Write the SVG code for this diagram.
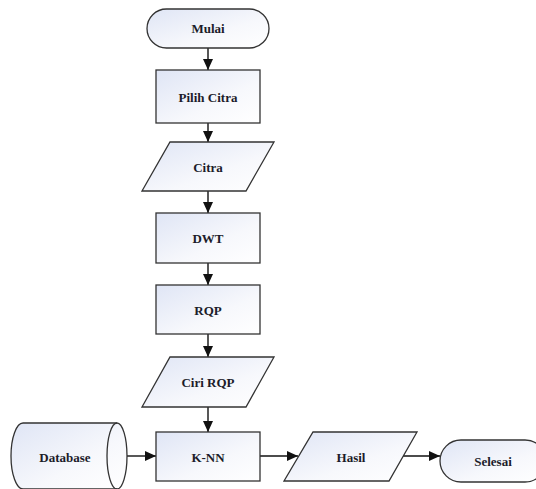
<svg xmlns="http://www.w3.org/2000/svg" width="536" height="489" viewBox="0 0 536 489">
<style>
.s{fill:url(#g);stroke:#333;stroke-width:1.3}
.t{font-family:"Liberation Serif","Times New Roman",serif;font-size:13px;fill:#1c1c2a;text-anchor:middle;dominant-baseline:central;font-weight:bold}
.c{stroke:#111;stroke-width:1.4;fill:none;marker-end:url(#a)}
</style>
<defs>
<linearGradient id="g" x1="0" y1="0" x2="1" y2="1">
<stop offset="0" stop-color="#dfe5f5"/>
<stop offset="0.6" stop-color="#f7f8fc"/>
<stop offset="1" stop-color="#ffffff"/>
</linearGradient>
<marker id="a" markerWidth="11" markerHeight="10" refX="11" refY="5" orient="auto" markerUnits="userSpaceOnUse">
<path d="M0,0 L11,5 L0,10 z" fill="#111"/>
</marker>
</defs>
<rect width="536" height="489" fill="#fff"/>
<g id="connectors">
<line class="c" x1="208" y1="48" x2="208" y2="70"/>
<line class="c" x1="208" y1="123" x2="208" y2="142"/>
<line class="c" x1="208" y1="191" x2="208" y2="213"/>
<line class="c" x1="208" y1="263" x2="208" y2="285"/>
<line class="c" x1="208" y1="334" x2="208" y2="357"/>
<line class="c" x1="208" y1="407" x2="208" y2="432"/>
<line class="c" x1="127" y1="456" x2="156" y2="456"/>
<line class="c" x1="260" y1="456" x2="298" y2="456"/>
<line class="c" x1="403" y1="456" x2="440" y2="456"/>
</g>
<g id="mulai">
<rect class="s" x="147" y="9" width="122" height="39" rx="19.5"/>
<text class="t" x="208" y="28.5">Mulai</text>
</g>
<g id="pilih-citra">
<rect class="s" x="156" y="70" width="104" height="53"/>
<text class="t" x="208" y="97">Pilih Citra</text>
</g>
<g id="citra">
<polygon class="s" points="170,142 274,142 246,191 142,191"/>
<text class="t" x="208" y="167">Citra</text>
</g>
<g id="dwt">
<rect class="s" x="156" y="213" width="104" height="50"/>
<text class="t" x="208" y="238">DWT</text>
</g>
<g id="rqp">
<rect class="s" x="156" y="285" width="104" height="49"/>
<text class="t" x="208" y="310">RQP</text>
</g>
<g id="ciri-rqp">
<polygon class="s" points="170,357 274,357 246,407 142,407"/>
<text class="t" x="208" y="382">Ciri RQP</text>
</g>
<g id="database">
<path class="s" d="M23,423 L117,423 A10,33 0 0 1 117,489 L23,489 A12,33 0 0 1 23,423 Z"/>
<path d="M117,423 A10,33 0 0 0 117,489" fill="none" stroke="#333" stroke-width="1.3"/>
<text class="t" x="65" y="457">Database</text>
</g>
<g id="knn">
<rect class="s" x="156" y="432" width="104" height="49"/>
<text class="t" x="208" y="457">K-NN</text>
</g>
<g id="hasil">
<polygon class="s" points="313,432 417,432 389,481 284,481"/>
<text class="t" x="351" y="457">Hasil</text>
</g>
<g id="selesai">
<rect class="s" x="440" y="440" width="106" height="42" rx="21"/>
<text class="t" x="493" y="461">Selesai</text>
</g>
</svg>
